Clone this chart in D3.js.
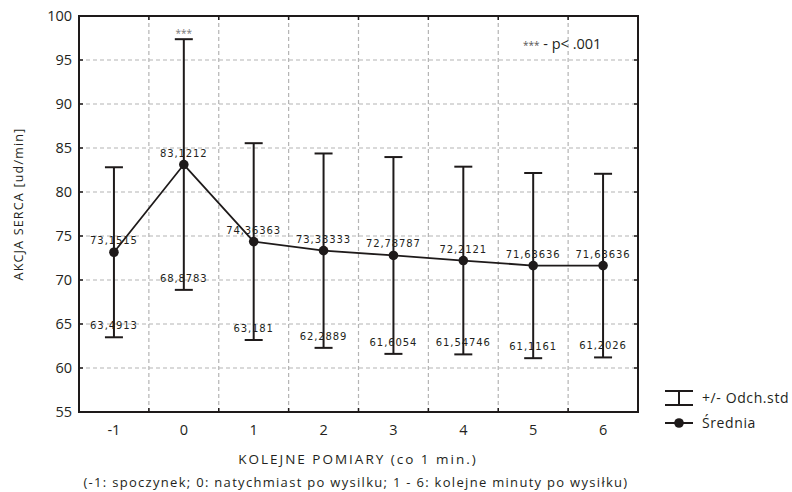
<!DOCTYPE html>
<html>
<head>
<meta charset="utf-8">
<script src="https://cdn.jsdelivr.net/npm/d3@7"></script>
<style>
  html, body { margin: 0; padding: 0; background: #fff; }
  svg.vis { display: block; }
</style>
</head>
<body>
<svg class="vis" width="792" height="492"></svg>
<script>
// dane
const categories = ["-1", "0", "1", "2", "3", "4", "5", "6"];
const means  = [73.1515, 83.1212, 74.36363, 73.33333, 72.78787, 72.2121, 71.63636, 71.63636];
const lowers = [63.4913, 68.8783, 63.181, 62.2889, 61.6054, 61.54746, 61.1161, 61.2026];
const uppers = [82.8117, 97.3641, 85.5463, 84.3778, 83.9704, 82.8775, 82.1566, 82.0701];
const signif = ["", "***", "", "", "", "", "", ""];
const yTicks = [55, 60, 65, 70, 75, 80, 85, 90, 95, 100];
const legendItems = ["+/- Odch.std", "Średnia"];

const vis = {

    refs: { svg: "svg.vis" },

    sels: { svg: null },

    dims: { left: 79, right: 638, top: 16, bottom: 412 },

    init: function() {
        vis.sels.svg = d3.select(vis.refs.svg);
        vis.draw.scales();
        vis.draw.grid();
        vis.draw.bars();
        vis.draw.line();
        vis.draw.labels();
        vis.draw.frame();
        vis.draw.texts();
        vis.draw.legend();
    },

    f: {
        fmt: v => String(v).replace(".", ","),
        cx: c => vis.x(c) + vis.x.bandwidth() / 2
    },

    draw: {

        scales: function() {
            vis.x = d3.scaleBand().domain(categories)
                .range([vis.dims.left, vis.dims.right]);
            vis.y = d3.scaleLinear().domain([55, 100])
                .range([vis.dims.bottom, vis.dims.top]);
        },

        grid: function() {
            let svg = vis.sels.svg;
            let g = svg.append("g").attr("stroke", "#b4b4b4")
                .attr("stroke-width", 1.2).attr("stroke-dasharray", "4,3");

            g.selectAll("line.h").data(yTicks.slice(1, -1)).join("line")
              .attr("x1", vis.dims.left).attr("x2", vis.dims.right)
              .attr("y1", d => vis.y(d)).attr("y2", d => vis.y(d));

            g.selectAll("line.v").data(categories.slice(1)).join("line")
              .attr("x1", d => vis.x(d)).attr("x2", d => vis.x(d))
              .attr("y1", vis.dims.top).attr("y2", vis.dims.bottom);
        },

        bars: function() {
            let svg = vis.sels.svg;
            let g = svg.append("g").attr("stroke", "#1e1a1a").attr("stroke-width", 2);
            let cap = 9;

            categories.forEach((c, i) => {
                let cx = vis.f.cx(c);
                g.append("line").attr("x1", cx).attr("x2", cx)
                  .attr("y1", vis.y(uppers[i])).attr("y2", vis.y(lowers[i]));
                [uppers[i], lowers[i]].forEach(v => {
                    g.append("line").attr("x1", cx - cap).attr("x2", cx + cap)
                      .attr("y1", vis.y(v)).attr("y2", vis.y(v));
                });
            });
        },

        line: function() {
            let svg = vis.sels.svg;
            let pts = categories.map((c, i) => [vis.f.cx(c), vis.y(means[i])]);

            svg.append("path").attr("d", d3.line()(pts))
              .attr("fill", "none").attr("stroke", "#1e1a1a").attr("stroke-width", 1.8);

            svg.append("g").selectAll("circle").data(pts).join("circle")
              .attr("cx", d => d[0]).attr("cy", d => d[1]).attr("r", 4.8)
              .attr("fill", "#1e1a1a");
        },

        labels: function() {
            let svg = vis.sels.svg;
            let g = svg.append("g")
              .attr("font-family", "'DejaVu Sans', Verdana, sans-serif")
              .attr("font-size", 10).attr("letter-spacing", 0.9)
              .attr("fill", "#231f20").attr("text-anchor", "middle");

            categories.forEach((c, i) => {
                let cx = vis.f.cx(c);
                g.append("text").attr("x", cx).attr("y", vis.y(means[i]) - 8)
                  .text(vis.f.fmt(means[i]));
                g.append("text").attr("x", cx).attr("y", vis.y(lowers[i]) - 8)
                  .text(vis.f.fmt(lowers[i]));
                if (signif[i]) {
                    svg.append("text").attr("x", cx).attr("y", vis.y(uppers[i]) - 2)
                      .attr("text-anchor", "middle").attr("font-family", "'Open Sans', sans-serif")
                      .attr("font-size", 10).attr("fill", "#777").text(signif[i]);
                }
            });
        },

        frame: function() {
            let svg = vis.sels.svg;
            let d = vis.dims;
            let tick = 4;

            svg.append("rect").attr("x", d.left).attr("y", d.top)
              .attr("width", d.right - d.left).attr("height", d.bottom - d.top)
              .attr("fill", "none").attr("stroke", "#1e1a1a").attr("stroke-width", 2);

            let g = svg.append("g").attr("stroke", "#1e1a1a").attr("stroke-width", 1.5);
            yTicks.slice(1, -1).forEach(t => {
                g.append("line").attr("x1", d.right - tick).attr("x2", d.right)
                  .attr("y1", vis.y(t)).attr("y2", vis.y(t));
                g.append("line").attr("x1", d.left).attr("x2", d.left + tick)
                  .attr("y1", vis.y(t)).attr("y2", vis.y(t));
            });
            categories.slice(1).forEach(c => {
                g.append("line").attr("x1", vis.x(c)).attr("x2", vis.x(c))
                  .attr("y1", d.top).attr("y2", d.top + tick);
                g.append("line").attr("x1", vis.x(c)).attr("x2", vis.x(c))
                  .attr("y1", d.bottom - tick).attr("y2", d.bottom);
            });

            // etykiety osi
            let t = svg.append("g").attr("font-family", "'Open Sans', sans-serif")
              .attr("font-size", 14.5).attr("fill", "#231f20");

            t.selectAll("text.y").data(yTicks).join("text")
              .attr("x", d.left - 7).attr("y", v => vis.y(v)).attr("dy", "0.36em")
              .attr("text-anchor", "end").text(v => v);

            t.selectAll("text.x").data(categories).join("text")
              .attr("x", c => vis.f.cx(c)).attr("y", 430).attr("dy", "0.36em")
              .attr("text-anchor", "middle").text(c => c);
        },

        texts: function() {
            let svg = vis.sels.svg;

            svg.append("text")
              .attr("transform", "translate(18,204) rotate(-90)")
              .attr("text-anchor", "middle").attr("dy", "0.36em")
              .attr("font-family", "'Open Sans', sans-serif").attr("font-size", 12.5)
              .attr("letter-spacing", 1.2).attr("fill", "#231f20")
              .text("AKCJA SERCA [ud/min]");

            svg.append("text").attr("x", 358).attr("y", 459).attr("dy", "0.36em")
              .attr("text-anchor", "middle")
              .attr("font-family", "'Open Sans', sans-serif").attr("font-size", 13.5)
              .attr("letter-spacing", 2).attr("fill", "#231f20")
              .text("KOLEJNE POMIARY (co 1 min.)");

            svg.append("text").attr("x", 356).attr("y", 482).attr("dy", "0.36em")
              .attr("text-anchor", "middle")
              .attr("font-family", "'Open Sans', sans-serif").attr("font-size", 13)
              .attr("letter-spacing", 1.3).attr("fill", "#231f20")
              .text("(-1: spoczynek; 0: natychmiast po wysilku; 1 - 6: kolejne minuty po wysiłku)");

            let p = svg.append("text").attr("x", 523).attr("y", 43).attr("dy", "0.36em")
              .attr("font-family", "'Open Sans', sans-serif").attr("fill", "#231f20");
            p.append("tspan").attr("font-size", 10).attr("fill", "#555").text("***");
            p.append("tspan").attr("font-size", 14.5).text(" - p< .001");
        },

        legend: function() {
            let svg = vis.sels.svg;
            let g = svg.append("g").attr("stroke", "#1e1a1a").attr("stroke-width", 2);
            let x0 = 665, x1 = 693, xm = 679;

            // ikona odchylenia
            g.append("line").attr("x1", x0).attr("x2", x1).attr("y1", 391).attr("y2", 391);
            g.append("line").attr("x1", x0).attr("x2", x1).attr("y1", 405).attr("y2", 405);
            g.append("line").attr("x1", xm).attr("x2", xm).attr("y1", 391).attr("y2", 405);

            // ikona średniej
            g.append("line").attr("x1", x0).attr("x2", x1).attr("y1", 423).attr("y2", 423);
            svg.append("circle").attr("cx", xm).attr("cy", 423).attr("r", 4.8).attr("fill", "#1e1a1a");

            svg.append("g").selectAll("text").data(legendItems).join("text")
              .attr("x", 702).attr("y", (d, i) => 398 + i * 25).attr("dy", "0.36em")
              .attr("font-family", "'Open Sans', sans-serif").attr("font-size", 14)
              .attr("letter-spacing", 0.6).attr("fill", "#231f20")
              .text(d => d);
        }
    }
};

vis.init();
</script>
</body>
</html>
